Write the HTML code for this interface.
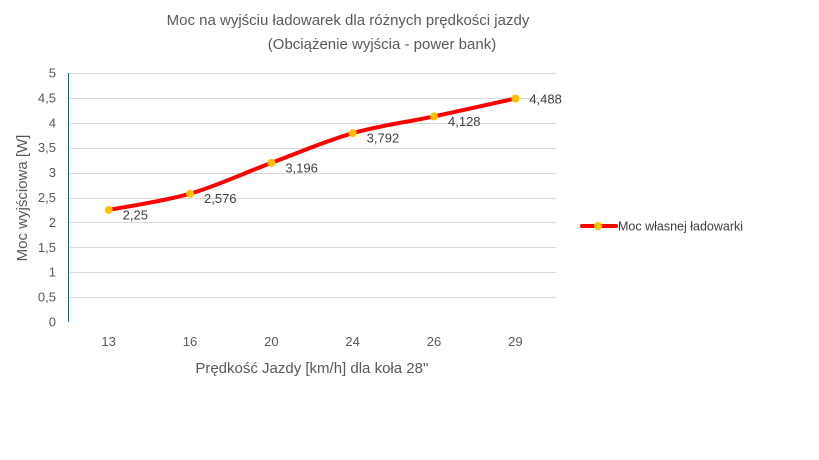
<!DOCTYPE html>
<html><head><meta charset="utf-8"><style>
body{margin:0;background:#fff;}
svg{display:block;font-family:"Liberation Sans","DejaVu Sans",sans-serif;}
</style></head><body>
<svg id="chart" width="819" height="460" viewBox="0 0 819 460" xmlns="http://www.w3.org/2000/svg">
<rect width="819" height="460" fill="#fff"/>
<text x="348" y="25" text-anchor="middle" font-size="15" fill="#595959">Moc na wyjściu ładowarek dla różnych prędkości jazdy</text>
<text x="382" y="49" text-anchor="middle" font-size="15" fill="#595959">(Obciążenie wyjścia - power bank)</text>
<g id="grid"></g><g id="yticks"></g><g id="xticks"></g>
<line x1="68.5" y1="73" x2="68.5" y2="322" stroke="#1f6391" stroke-width="1"/>
<g id="series"></g>
<text transform="translate(27,198) rotate(-90)" text-anchor="middle" font-size="15" fill="#595959">Moc wyjściowa [W]</text>
<text x="312" y="373" text-anchor="middle" font-size="15" fill="#595959">Prędkość Jazdy [km/h] dla koła 28''</text>
<g>
<line x1="582" y1="226" x2="616" y2="226" stroke="#ff0000" stroke-width="4" stroke-linecap="round"/>
<circle cx="598" cy="226" r="4" fill="#ffc000"/>
<text x="618" y="230.5" font-size="12.5" fill="#404040">Moc własnej ładowarki</text>
</g>
</svg>
<script>
const categories = ["13","16","20","24","26","29"];
const values = [2.25, 2.576, 3.196, 3.792, 4.128, 4.488];
const valueLabels = ["2,25","2,576","3,196","3,792","4,128","4,488"];
const yTicks = [0,0.5,1,1.5,2,2.5,3,3.5,4,4.5,5];
const yTickLabels = ["0","0,5","1","1,5","2","2,5","3","3,5","4","4,5","5"];
const NS="http://www.w3.org/2000/svg";
const L=68, R=556, T=73, B=322, yMax=5;
const band=(R-L)/categories.length;
const xs=i=>L+band*(i+0.5);
const ys=v=>B-(v/yMax)*(B-T);
function mk(tag,attrs,parent){const e=document.createElementNS(NS,tag);for(const k in attrs)e.setAttribute(k,attrs[k]);parent.appendChild(e);return e;}
const grid=document.getElementById('grid'),yt=document.getElementById('yticks'),xt=document.getElementById('xticks'),ser=document.getElementById('series');
yTicks.forEach((t,i)=>{
  const y=Math.round(ys(t))+0.5;
  if(t>0){const g=mk('line',{x1:L,x2:R,y1:y,y2:y,stroke:'#d9d9d9','stroke-width':1},grid);
  
  }
  const tx=mk('text',{x:56,y:ys(t)+4.5,'text-anchor':'end','font-size':13,fill:'#595959'},yt);
  tx.textContent=yTickLabels[i];
  
  
});
categories.forEach((c,i)=>{
  const tx=mk('text',{x:xs(i),y:346,'text-anchor':'middle','font-size':13,fill:'#595959'},xt);
  tx.textContent=c;
  
  
});
const pts=values.map((v,i)=>[xs(i),ys(v)]);
let d=`M${pts[0][0]},${pts[0][1]}`;
for(let i=0;i<pts.length-1;i++){
  const p0=pts[Math.max(i-1,0)],p1=pts[i],p2=pts[i+1],p3=pts[Math.min(i+2,pts.length-1)];
  const k=1/6;
  d+=` C${p1[0]+(p2[0]-p0[0])*k},${p1[1]+(p2[1]-p0[1])*k} ${p2[0]-(p3[0]-p1[0])*k},${p2[1]-(p3[1]-p1[1])*k} ${p2[0]},${p2[1]}`;
}
const path=mk('path',{d:d,fill:'none',stroke:'#ff0000','stroke-width':4,'stroke-linecap':'round'},ser);


pts.forEach((p,i)=>{
  const c=mk('circle',{cx:p[0],cy:p[1],r:4,fill:'#ffc000'},ser);
  
  
  const t=mk('text',{x:p[0]+14,y:p[1]+9.5,'font-size':13,fill:'#404040'},ser);
  if(i===pts.length-1){t.setAttribute('y',p[1]+5);}
  t.textContent=valueLabels[i];
  
  
});
</script>
</body></html>
